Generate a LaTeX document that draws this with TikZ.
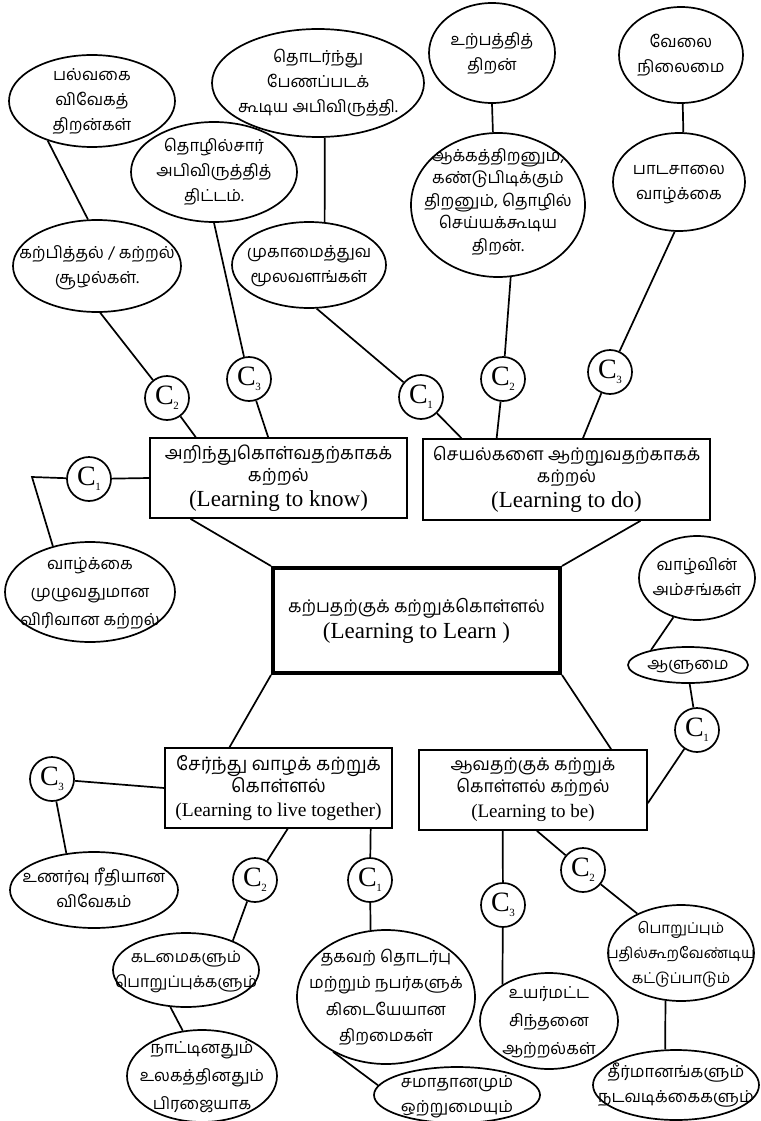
\documentclass[tikz,border=0pt]{standalone}
\usepackage{fontspec}
\setmainfont{Liberation Serif}
\newfontfamily\tam[Script=Tamil]{Hind Madurai}
\usetikzlibrary{shapes.geometric,calc}
\newcommand{\csub}[2]{C\kern-0.5pt\raisebox{-5pt}{\fontsize{11}{11}\selectfont #2}}
\newcommand{\et}[1]{\smash{\makebox[0pt]{\raisebox{-0.25em}{\begin{tabular}{@{}c@{}}#1\end{tabular}}}}}
\begin{document}
\begin{tikzpicture}[x=1pt,y=-1pt,
  ell/.style={draw, ellipse, line width=1.7pt, inner sep=0pt,
    font=\tam\fontsize{16.5}{25}\selectfont},
  cc/.style={draw, circle, minimum size=44pt, inner sep=0pt, line width=1.7pt,
    font=\fontsize{28}{28}\selectfont},
  bx/.style={draw, rectangle, line width=1.7pt, inner sep=0pt, align=center,
    font=\tam\fontsize{17.5}{22}\selectfont},
  conn/.style={line width=1.7pt}]
\fill[white] (0,0) rectangle (760,1121);
\useasboundingbox (0,0) rectangle (760,1121);

% boxes
\node[bx, line width=4pt, minimum width=287pt, minimum height=105pt] (cen) at (416.5,620.5)
  {கற்பதற்குக் கற்றுக்கொள்ளல்\\[4pt]\rmfamily\fontsize{23}{26}\selectfont (Learning to Learn )};
\node[bx, font=\tam\fontsize{18}{22}\selectfont, minimum width=257pt, minimum height=80pt] (know) at (278.5,478)
  {அறிந்துகொள்வதற்காகக்\\கற்றல்\\[3pt]\rmfamily\fontsize{23}{24}\selectfont (Learning to know)};
\node[bx, minimum width=287pt, minimum height=81pt] (do) at (566.5,479.5)
  {செயல்களை ஆற்றுவதற்காகக்\\கற்றல்\\[3pt]\rmfamily\fontsize{23}{24}\selectfont (Learning to do)};
\node[bx, font=\tam\fontsize{18.5}{22}\selectfont, minimum width=227pt, minimum height=80pt] (tog) at (278.5,788)
  {சேர்ந்து வாழக் கற்றுக்\\கொள்ளல்\\[2pt]\rmfamily\fontsize{19.5}{22}\selectfont (Learning to live together)};
\node[bx, minimum width=228pt, minimum height=80pt] (be) at (533,790)
  {ஆவதற்குக் கற்றுக்\\கொள்ளல் கற்றல்\\[3pt]\rmfamily\fontsize{19}{22}\selectfont (Learning to be)};

% ellipses
\node[ell, minimum width=166pt, minimum height=92pt] (e1) at (92,101) {\et{பல்வகை\\விவேகத்\\திறன்கள்}};
\node[ell, minimum width=212pt, minimum height=108pt] (e2) at (318,83) {\et{தொடர்ந்து\\பேணப்படக்\\கூடிய அபிவிருத்தி.}};
\node[ell, minimum width=166pt, minimum height=100pt] (e3) at (214,172) {\et{தொழில்சார்\\அபிவிருத்தித்\\திட்டம்.}};
\node[ell, minimum width=168pt, minimum height=92pt] (e4) at (97,266) {\et{கற்பித்தல் / கற்றல்\\சூழல்கள்.}};
\node[ell, minimum width=154pt, minimum height=86pt] (e5) at (309,265) {\et{முகாமைத்துவ\\மூலவளங்கள்}};
\node[ell, minimum width=126pt, minimum height=100pt] (e6) at (492,53) {\et{உற்பத்தித்\\திறன்}};
\node[ell, minimum width=124pt, minimum height=96pt] (e7) at (681,55) {\et{வேலை\\நிலைமை}};
\node[ell, minimum width=174pt, minimum height=144pt, font=\tam\fontsize{16.5}{22.5}\selectfont] (e8) at (498,205)
  {\raisebox{6pt}{\et{ஆக்கத்திறனும்,\\கண்டுபிடிக்கும்\\திறனும், தொழில்\\செய்யக்கூடிய\\திறன்.}}};
\node[ell, minimum width=132pt, minimum height=98pt] (e9) at (679,182) {\et{பாடசாலை\\வாழ்க்கை}};
\node[ell, minimum width=170pt, minimum height=100pt, font=\tam\fontsize{16.5}{28}\selectfont] (e10) at (90,592) {\et{வாழ்க்கை\\முழுவதுமான\\விரிவான கற்றல்}};
\node[ell, minimum width=116pt, minimum height=84pt] (e11) at (697,578) {\et{வாழ்வின்\\அம்சங்கள்}};
\node[ell, minimum width=120pt, minimum height=36pt] (e12) at (688,665) {\et{ஆளுமை}};
\node[ell, minimum width=168pt, minimum height=76pt] (e13) at (94,890) {\et{உணர்வு ரீதியான\\விவேகம்}};
\node[ell, minimum width=146pt, minimum height=74pt, font=\tam\fontsize{16}{25}\selectfont] (e14) at (186,970) {\et{கடமைகளும்\\பொறுப்புக்களும்}};
\node[ell, minimum width=150pt, minimum height=92pt, font=\tam\fontsize{16.5}{28}\selectfont] (e15) at (202,1076) {\et{நாட்டினதும்\\உலகத்தினதும்\\பிரஜையாக}};
\node[ell, minimum width=178pt, minimum height=134pt, font=\tam\fontsize{16.5}{26.5}\selectfont] (e16) at (386,997) {\et{தகவற் தொடர்பு\\மற்றும் நபர்களுக்\\கிடையேயான\\திறமைகள்}};
\node[ell, minimum width=166pt, minimum height=56pt] (e17) at (457,1095) {\et{சமாதானமும்\\ஒற்றுமையும்}};
\node[ell, minimum width=138pt, minimum height=96pt, font=\tam\fontsize{16.5}{28}\selectfont] (e18) at (549,1021) {\et{உயர்மட்ட\\சிந்தனை\\ஆற்றல்கள்}};
\node[ell, minimum width=146pt, minimum height=96pt, font=\tam\fontsize{15}{25}\selectfont] (e19) at (681,953) {\et{பொறுப்பும்\\பதில்கூறவேண்டிய\\கட்டுப்பாடும்}};
\node[ell, minimum width=166pt, minimum height=70pt] (e20) at (676,1085) {\et{தீர்மானங்களும்\\நடவடிக்கைகளும்}};

% C circles
\node[cc] (kc2) at (167,398) {\csub{C}{2}};
\node[cc] (kc3) at (249,379) {\csub{C}{3}};
\node[cc] (kc1) at (89,479) {\csub{C}{1}};
\node[cc] (dc1) at (421,397) {\csub{C}{1}};
\node[cc] (dc2) at (503,379) {\csub{C}{2}};
\node[cc] (dc3) at (610,372) {\csub{C}{3}};
\node[cc] (bc1) at (697,730) {\csub{C}{1}};
\node[cc] (tc3) at (52,779) {\csub{C}{3}};
\node[cc] (tc2) at (255,880) {\csub{C}{2}};
\node[cc] (tc1) at (370,880) {\csub{C}{1}};
\node[cc] (bc3) at (503,905) {\csub{C}{3}};
\node[cc] (bc2) at (583,870) {\csub{C}{2}};

\coordinate (k1) at (32,477);

% connectors: centre
\draw[conn] (cen.north west) -- ($(know.south west)!0.16!(know.south east)$);
\draw[conn] (cen.north east) -- ($(do.south west)!0.756!(do.south east)$);
\draw[conn] (cen.south west) -- ($(tog.north west)!0.286!(tog.north east)$);
\draw[conn] (cen.south east) -- ($(be.north west)!0.84!(be.north east)$);

% learning to know
\draw[conn] ($(know.north west)!0.18!(know.north east)$) -- (kc2);
\draw[conn] (kc2) -- (e4.274);
\draw[conn] (e4.101) -- (e1.222);
\draw[conn] ($(know.north west)!0.46!(know.north east)$) -- (kc3);
\draw[conn] (kc3) -- (e3.270);
\draw[conn] (know.west) -- (kc1);
\draw[conn] (kc1) -- (k1) -- (e10.129);

% learning to do
\draw[conn] ($(do.north west)!0.136!(do.north east)$) -- (dc1);
\draw[conn] (dc1) -- (e5.280);
\draw[conn] (e5.70) -- (e2.277);
\draw[conn] ($(do.north west)!0.258!(do.north east)$) -- (dc2);
\draw[conn] (dc2) -- (e8.280);
\draw[conn] (e8.94) -- (e6.270);
\draw[conn] ($(do.north west)!0.557!(do.north east)$) -- (dc3);
\draw[conn] (dc3) -- (e9.265);
\draw[conn] (e9.85) -- (e7.272);

% learning to be
\draw[conn] ($(be.north east)!0.66!(be.south east)$) -- (bc1);
\draw[conn] (bc1) -- (e12.275);
\draw[conn] (e12.158) -- (e11.239);
\draw[conn] ($(be.south west)!0.368!(be.south east)$) -- (bc3);
\draw[conn] (bc3) -- (e18.142);
\draw[conn] ($(be.south west)!0.517!(be.south east)$) -- (bc2);
\draw[conn] (bc2) -- (e19.138);
\draw[conn] (e19.252) -- (e20.107);

% learning to live together
\draw[conn] (tog.west) -- (tc3);
\draw[conn] (tc3) -- (e13.127);
\draw[conn] ($(tog.south west)!0.54!(tog.south east)$) -- (tc2);
\draw[conn] (tc2) -- (e14.32);
\draw[conn] (e14.247) -- (e15.113);
\draw[conn] ($(tog.south west)!0.903!(tog.south east)$) -- (tc1);
\draw[conn] (tc1) -- (e16.103);
\draw[conn] (e16.226) -- (e17.173);
\end{tikzpicture}
\end{document}
